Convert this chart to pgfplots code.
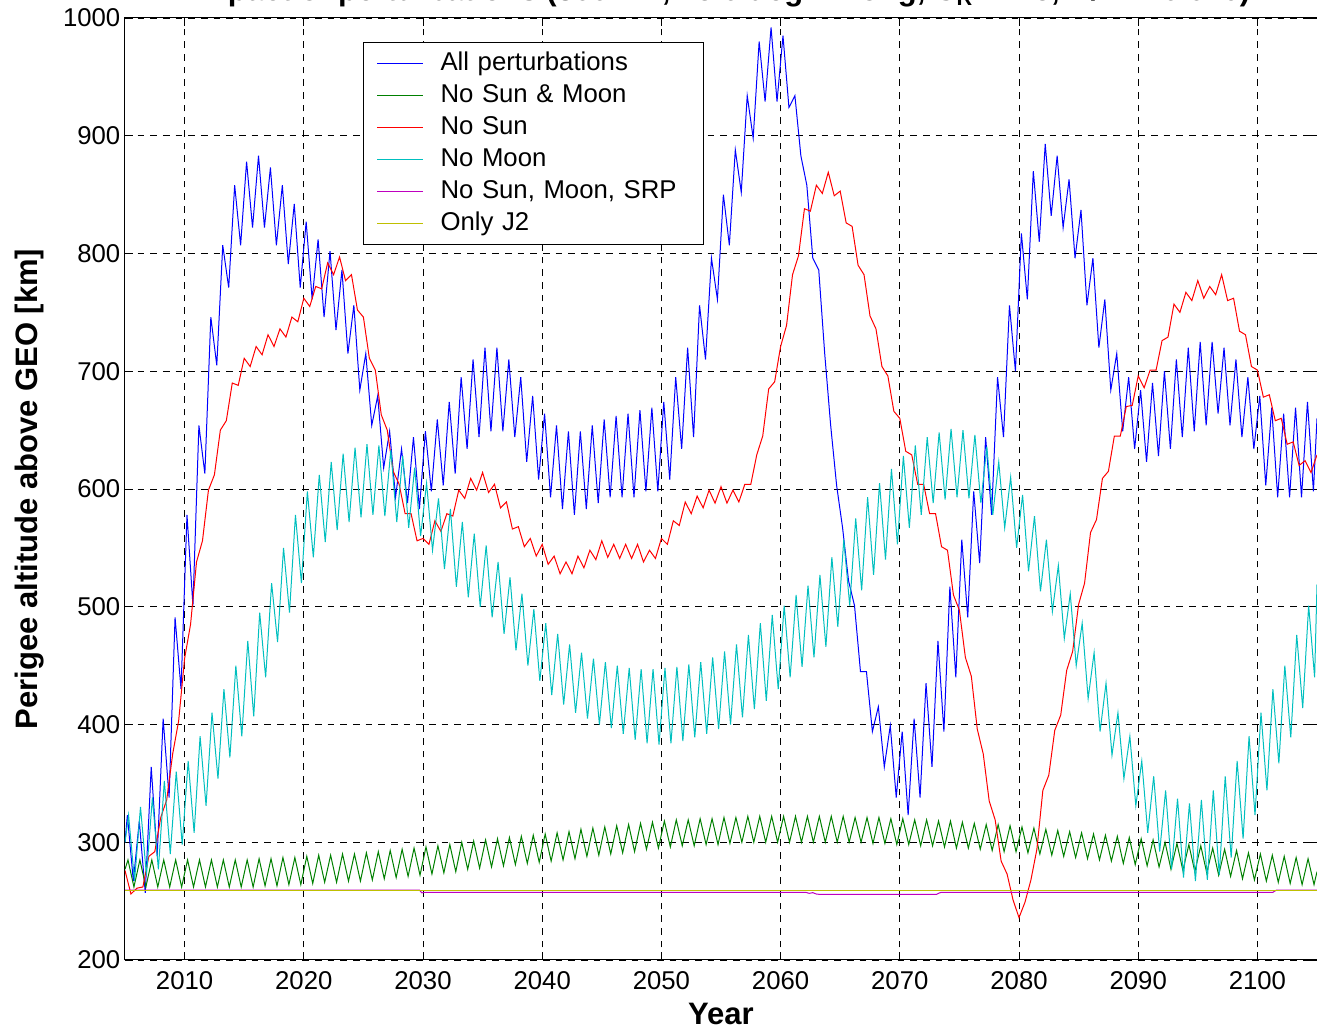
\documentclass[border=0pt]{standalone}
\usepackage{fontspec}
\setmainfont{Liberation Sans}
\usepackage{pgfplots}
\pgfplotsset{compat=1.18}
\definecolor{mblue}{rgb}{0,0,1}
\definecolor{mgreen}{rgb}{0,0.5,0}
\definecolor{mred}{rgb}{1,0,0}
\definecolor{mcyan}{rgb}{0,0.75,0.75}
\definecolor{mmag}{rgb}{0.75,0,0.75}
\definecolor{myel}{rgb}{0.75,0.75,0}
\begin{document}
\begin{tikzpicture}
\begin{axis}[
  name=ax,
  scale only axis,
  width=894pt, height=706.5pt,
  xmin=2005, xmax=2105, ymin=200, ymax=1000,
  xtick={2010,2020,...,2100},
  ytick={200,300,...,1000},
  /pgf/number format/1000 sep={},
  /pgf/number format/assume math mode=true,
  ticklabel style={font=\fontsize{19.3}{23}\selectfont},
  xticklabel style={yshift=-5pt},
  tick align=inside,
  major tick length=6pt,
  tick style={black, line width=0.6pt},
  axis line style={black, line width=0.75pt},
  grid=major,
  major grid style={black, line width=0.6pt, dash pattern=on 5pt off 4.5pt},
  xlabel={Year},
  ylabel={Perigee altitude above GEO [km]},
  label style={font=\bfseries\fontsize{23.25}{28}\selectfont},
  xlabel style={at={(axis description cs:0.5,-0.0685)}, anchor=base},
  ylabel style={at={(axis description cs:-0.0738,0.5)}, anchor=base},
  legend cell align=left,
  legend style={at={(0.1997,0.9745)}, anchor=north west, draw=black, line width=0.75pt,
    inner xsep=9.75pt, inner ysep=3.75pt, row sep=0pt,
    font=\fontsize{19.3}{23}\selectfont,
    nodes={inner xsep=0pt, inner ysep=2.65pt, text height=14.5pt, text depth=4.2pt, text width=187.5pt, align=left, anchor=west},
    /tikz/every odd column/.append style={column sep=12.75pt}},
  legend image code/.code={\draw[#1] (0pt,0pt) -- (34.5pt,0pt);},
  every axis plot/.append style={line width=0.75pt, mark=none},
]
% All perturbations
\addplot[draw=mblue, forget plot] coordinates {
(2005.0,300)
(2005.2,323)(2005.7,267)(2006.2,318)(2006.7,257)(2007.2,364)(2007.7,288)(2008.2,405)(2008.7,338)
(2009.2,491)(2009.7,430)(2010.2,578)(2010.7,501)(2011.2,654)(2011.7,613)(2012.2,746)(2012.7,705)
(2013.2,807)(2013.7,771)(2014.2,858)(2014.7,807)(2015.2,878)(2015.7,822)(2016.2,883)(2016.7,822)
(2017.2,873)(2017.7,807)(2018.2,858)(2018.7,791)(2019.2,842)(2019.7,771)(2020.2,827)(2020.7,761)
(2021.2,812)(2021.7,746)(2022.2,802)(2022.7,735)(2023.2,786)(2023.7,715)(2024.2,756)(2024.7,684)
(2025.2,715)(2025.7,654)(2026.2,679)(2026.7,618)(2027.2,649)(2027.7,593)(2028.2,634)(2028.7,588)
(2029.2,644)(2029.7,583)(2030.2,649)(2030.7,598)(2031.2,659)(2031.7,603)(2032.2,674)(2032.7,613)
(2033.2,695)(2033.7,634)(2034.2,710)(2034.7,644)(2035.2,720)(2035.7,649)(2036.2,720)(2036.7,649)
(2037.2,710)(2037.7,644)(2038.2,695)(2038.7,623)(2039.2,679)(2039.7,608)(2040.2,664)(2040.7,593)
(2041.2,654)(2041.7,583)(2042.2,649)(2042.7,578)(2043.2,649)(2043.7,583)(2044.2,654)(2044.7,588)
(2045.2,659)(2045.7,593)(2046.2,662)(2046.7,593)(2047.2,664)(2047.7,593)(2048.2,667)(2048.7,598)
(2049.2,669)(2049.7,598)(2050.2,674)(2050.7,608)(2051.2,695)(2051.7,634)(2052.2,720)(2052.7,644)
(2053.2,756)(2053.7,710)(2054.2,796)(2054.7,761)(2055.2,850)(2055.7,807)(2056.2,888)(2056.7,852)
(2057.2,934)(2057.7,898)(2058.2,980)(2058.7,929)(2059.2,992)(2059.7,929)(2060.2,985)(2060.7,924)
(2061.2,934)(2061.7,883)(2062.2,858)(2062.7,796)(2063.2,786)(2063.7,715)(2064.2,654)(2064.7,603)
(2065.2,567)(2065.7,522)(2066.2,501)(2066.7,445)(2067.2,445)(2067.7,394)(2068.2,415)(2068.7,364)
(2069.2,399)(2069.7,338)(2070.2,394)(2070.7,323)(2071.2,405)(2071.7,338)(2072.2,435)(2072.7,364)
(2073.2,471)(2073.7,394)(2074.2,517)(2074.7,440)(2075.2,557)(2075.7,491)(2076.2,598)(2076.7,537)
(2077.2,644)(2077.7,578)(2078.2,695)(2078.7,644)(2079.2,756)(2079.7,700)(2080.2,817)(2080.7,761)
(2081.2,870)(2081.7,810)(2082.2,893)(2082.7,832)(2083.2,883)(2083.7,822)(2084.2,863)(2084.7,796)
(2085.2,837)(2085.7,756)(2086.2,796)(2086.7,720)(2087.2,761)(2087.7,684)(2088.2,715)(2088.7,649)
(2089.2,695)(2089.7,634)(2090.2,684)(2090.7,623)(2091.2,690)(2091.7,628)(2092.2,700)(2092.7,634)
(2093.2,710)(2093.7,644)(2094.2,720)(2094.7,649)(2095.2,725)(2095.7,654)(2096.2,725)(2096.7,664)
(2097.2,720)(2097.7,654)(2098.2,710)(2098.7,644)(2099.2,695)(2099.7,634)(2100.2,679)(2100.7,603)
(2101.2,669)(2101.7,593)(2102.2,664)(2102.7,593)(2103.2,669)(2103.7,593)(2104.2,674)(2104.7,598)
(2105.0,660)
};
% No Sun & Moon
\addplot[draw=mgreen, forget plot] coordinates {
(2005.0,277)
(2005.25,285)(2005.75,262)(2006.25,285)(2006.75,262)(2007.25,285)(2007.75,262)(2008.25,285)(2008.75,262)
(2009.25,285)(2009.75,262)(2010.25,285)(2010.75,262)(2011.25,285)(2011.75,262)(2012.25,285)(2012.75,262)
(2013.25,285)(2013.75,262)(2014.25,285)(2014.75,262)(2015.25,285)(2015.75,262)(2016.25,286)(2016.75,263)
(2017.25,286)(2017.75,263)(2018.25,287)(2018.75,264)(2019.25,287)(2019.75,264)(2020.25,288)(2020.75,265)
(2021.25,289)(2021.75,266)(2022.25,289)(2022.75,266)(2023.25,290)(2023.75,267)(2024.25,290)(2024.75,267)
(2025.25,291)(2025.75,268)(2026.25,292)(2026.75,269)(2027.25,293)(2027.75,270)(2028.25,294)(2028.75,271)
(2029.25,295)(2029.75,272)(2030.25,296)(2030.75,273)(2031.25,297)(2031.75,274)(2032.25,298)(2032.75,275)
(2033.25,300)(2033.75,277)(2034.25,301)(2034.75,278)(2035.25,302)(2035.75,279)(2036.25,303)(2036.75,280)
(2037.25,304)(2037.75,281)(2038.25,305)(2038.75,282)(2039.25,306)(2039.75,283)(2040.25,307)(2040.75,284)
(2041.25,308)(2041.75,285)(2042.25,309)(2042.75,286)(2043.25,311)(2043.75,288)(2044.25,312)(2044.75,289)
(2045.25,313)(2045.75,290)(2046.25,314)(2046.75,291)(2047.25,315)(2047.75,292)(2048.25,316)(2048.75,294)
(2049.25,317)(2049.75,295)(2050.25,318)(2050.75,296)(2051.25,319)(2051.75,297)(2052.25,319)(2052.75,297)
(2053.25,320)(2053.75,298)(2054.25,320)(2054.75,298)(2055.25,321)(2055.75,299)(2056.25,321)(2056.75,300)
(2057.25,322)(2057.75,300)(2058.25,322)(2058.75,300)(2059.25,322)(2059.75,300)(2060.25,322)(2060.75,300)
(2061.25,322)(2061.75,300)(2062.25,322)(2062.75,300)(2063.25,322)(2063.75,300)(2064.25,322)(2064.75,300)
(2065.25,322)(2065.75,300)(2066.25,321)(2066.75,300)(2067.25,321)(2067.75,299)(2068.25,321)(2068.75,299)
(2069.25,320)(2069.75,298)(2070.25,320)(2070.75,298)(2071.25,319)(2071.75,297)(2072.25,319)(2072.75,297)
(2073.25,318)(2073.75,296)(2074.25,318)(2074.75,295)(2075.25,317)(2075.75,295)(2076.25,316)(2076.75,294)
(2077.25,315)(2077.75,293)(2078.25,315)(2078.75,292)(2079.25,314)(2079.75,292)(2080.25,313)(2080.75,291)
(2081.25,312)(2081.75,290)(2082.25,311)(2082.75,289)(2083.25,310)(2083.75,288)(2084.25,309)(2084.75,287)
(2085.25,308)(2085.75,286)(2086.25,307)(2086.75,285)(2087.25,306)(2087.75,284)(2088.25,305)(2088.75,282)
(2089.25,304)(2089.75,281)(2090.25,303)(2090.75,280)(2091.25,302)(2091.75,279)(2092.25,300)(2092.75,277)
(2093.25,299)(2093.75,276)(2094.25,298)(2094.75,275)(2095.25,297)(2095.75,274)(2096.25,295)(2096.75,272)
(2097.25,294)(2097.75,271)(2098.25,293)(2098.75,269)(2099.25,291)(2099.75,268)(2100.25,290)(2100.75,267)
(2101.25,289)(2101.75,266)(2102.25,288)(2102.75,265)(2103.25,287)(2103.75,264)(2104.25,286)(2104.75,264)
(2105.0,275)
};
% No Sun
\addplot[draw=mred, forget plot] coordinates {
(2005.0,276)(2005.5,256)(2006.0,261)(2006.5,262)(2007.0,288)(2007.5,292)(2008.0,321)(2008.5,336)
(2009.0,375)(2009.5,403)(2010.0,456)(2010.5,485)(2011.0,538)(2011.5,556)(2012.0,599)(2012.5,612)
(2013.0,650)(2013.5,658)(2014.0,690)(2014.5,688)(2015.0,711)(2015.5,704)(2016.0,721)(2016.5,714)
(2017.0,731)(2017.5,721)(2018.0,736)(2018.5,729)(2019.0,746)(2019.5,742)(2020.0,762)(2020.5,755)
(2021.0,772)(2021.5,770)(2022.0,792)(2022.5,782)(2023.0,797)(2023.5,777)(2024.0,782)(2024.5,752)
(2025.0,746)(2025.5,711)(2026.0,701)(2026.5,663)(2027.0,650)(2027.5,615)(2028.0,604)(2028.5,579)
(2029.0,579)(2029.5,556)(2030.0,558)(2030.5,553)(2031.0,573)(2031.5,564)(2032.0,579)(2032.5,577)
(2033.0,599)(2033.5,592)(2034.0,609)(2034.5,599)(2035.0,614)(2035.5,597)(2036.0,604)(2036.5,584)
(2037.0,589)(2037.5,566)(2038.0,568)(2038.5,551)(2039.0,558)(2039.5,543)(2040.0,553)(2040.5,536)
(2041.0,543)(2041.5,528)(2042.0,538)(2042.5,528)(2043.0,543)(2043.5,533)(2044.0,548)(2044.5,540)
(2045.0,556)(2045.5,542)(2046.0,553)(2046.5,541)(2047.0,553)(2047.5,541)(2048.0,553)(2048.5,538)
(2049.0,548)(2049.5,541)(2050.0,558)(2050.5,553)(2051.0,573)(2051.5,569)(2052.0,589)(2052.5,579)
(2053.0,594)(2053.5,584)(2054.0,599)(2054.5,588)(2055.0,602)(2055.5,588)(2056.0,599)(2056.5,589)
(2057.0,604)(2057.5,604)(2058.0,629)(2058.5,645)(2059.0,685)(2059.5,691)(2060.0,721)(2060.5,739)
(2061.0,782)(2061.5,798)(2062.0,838)(2062.5,836)(2063.0,858)(2063.5,851)(2064.0,869)(2064.5,849)
(2065.0,853)(2065.5,826)(2066.0,823)(2066.5,790)(2067.0,782)(2067.5,747)(2068.0,736)(2068.5,704)
(2069.0,696)(2069.5,666)(2070.0,660)(2070.5,632)(2071.0,629)(2071.5,604)(2072.0,604)(2072.5,579)
(2073.0,579)(2073.5,551)(2074.0,548)(2074.5,510)(2075.0,497)(2075.5,457)(2076.0,441)(2076.5,396)
(2077.0,375)(2077.5,335)(2078.0,319)(2078.5,284)(2079.0,273)(2079.5,251)(2080.0,236)(2080.5,249)
(2081.0,268)(2081.5,294)(2082.0,344)(2082.5,357)(2083.0,395)(2083.5,408)(2084.0,446)(2084.5,462)
(2085.0,502)(2085.5,520)(2086.0,563)(2086.5,574)(2087.0,609)(2087.5,615)(2088.0,645)(2088.5,645)
(2089.0,670)(2089.5,671)(2090.0,696)(2090.5,686)(2091.0,701)(2091.5,701)(2092.0,726)(2092.5,729)
(2093.0,757)(2093.5,750)(2094.0,767)(2094.5,760)(2095.0,777)(2095.5,762)(2096.0,772)(2096.5,765)
(2097.0,782)(2097.5,760)(2098.0,762)(2098.5,734)(2099.0,731)(2099.5,704)(2100.0,701)(2100.5,678)
(2101.0,680)(2101.5,658)(2102.0,660)(2102.5,638)(2103.0,640)(2103.5,620)(2104.0,624)(2104.5,614)
(2105.0,629)
};
% No Moon
\addplot[draw=mcyan, forget plot] coordinates {
(2005.0,300)
(2005.3,323)(2005.8,267)(2006.3,330)(2006.8,272)(2007.3,338)(2007.8,277)(2008.3,352)(2008.8,290)
(2009.3,360)(2009.8,298)(2010.3,369)(2010.8,308)(2011.3,390)(2011.8,331)(2012.3,410)(2012.8,354)
(2013.3,430)(2013.8,372)(2014.3,450)(2014.8,390)(2015.3,471)(2015.8,407)(2016.3,495)(2016.8,440)
(2017.3,520)(2017.8,470)(2018.3,550)(2018.8,495)(2019.3,578)(2019.8,520)(2020.3,598)(2020.8,542)
(2021.3,612)(2021.8,555)(2022.3,623)(2022.8,565)(2023.3,630)(2023.8,572)(2024.3,635)(2024.8,576)
(2025.3,638)(2025.8,578)(2026.3,637)(2026.8,577)(2027.3,633)(2027.8,572)(2028.3,628)(2028.8,567)
(2029.3,618)(2029.8,560)(2030.3,605)(2030.8,548)(2031.3,592)(2031.8,532)(2032.3,583)(2032.8,517)
(2033.3,572)(2033.8,508)(2034.3,562)(2034.8,500)(2035.3,552)(2035.8,491)(2036.3,538)(2036.8,477)
(2037.3,525)(2037.8,463)(2038.3,511)(2038.8,450)(2039.3,498)(2039.8,437)(2040.3,486)(2040.8,425)
(2041.3,477)(2041.8,417)(2042.3,468)(2042.8,410)(2043.3,461)(2043.8,405)(2044.3,456)(2044.8,400)
(2045.3,453)(2045.8,397)(2046.3,450)(2046.8,392)(2047.3,448)(2047.8,387)(2048.3,447)(2048.8,384)
(2049.3,447)(2049.8,383)(2050.3,448)(2050.8,384)(2051.3,449)(2051.8,386)(2052.3,451)(2052.8,389)
(2053.3,453)(2053.8,392)(2054.3,457)(2054.8,396)(2055.3,462)(2055.8,400)(2056.3,468)(2056.8,406)
(2057.3,476)(2057.8,413)(2058.3,486)(2058.8,420)(2059.3,493)(2059.8,430)(2060.3,501)(2060.8,440)
(2061.3,510)(2061.8,449)(2062.3,518)(2062.8,457)(2063.3,527)(2063.8,466)(2064.3,542)(2064.8,483)
(2065.3,557)(2065.8,501)(2066.3,575)(2066.8,514)(2067.3,593)(2067.8,527)(2068.3,605)(2068.8,540)
(2069.3,617)(2069.8,553)(2070.3,628)(2070.8,567)(2071.3,637)(2071.8,578)(2072.3,644)(2072.8,588)
(2073.3,648)(2073.8,591)(2074.3,651)(2074.8,593)(2075.3,650)(2075.8,592)(2076.3,646)(2076.8,588)
(2077.3,636)(2077.8,578)(2078.3,623)(2078.8,567)(2079.3,610)(2079.8,550)(2080.3,595)(2080.8,530)
(2081.3,577)(2081.8,513)(2082.3,557)(2082.8,496)(2083.3,535)(2083.8,473)(2084.3,511)(2084.8,450)
(2085.3,486)(2085.8,422)(2086.3,461)(2086.8,394)(2087.3,435)(2087.8,374)(2088.3,410)(2088.8,354)
(2089.3,390)(2089.8,331)(2090.3,369)(2090.8,308)(2091.3,356)(2091.8,292)(2092.3,344)(2092.8,277)
(2093.3,337)(2093.8,270)(2094.3,333)(2094.8,267)(2095.3,336)(2095.8,268)(2096.3,344)(2096.8,272)
(2097.3,356)(2097.8,287)(2098.3,369)(2098.8,303)(2099.3,390)(2099.8,323)(2100.3,410)(2100.8,344)
(2101.3,430)(2101.8,367)(2102.3,450)(2102.8,389)(2103.3,476)(2103.8,414)(2104.3,501)(2104.8,440)
(2105.0,519)
};
% No Sun, Moon, SRP
\addplot[draw=mmag, forget plot] coordinates {
(2005,259.4)(2029.7,259.4)(2029.9,257.0)(2030.1,257.5)(2062.1,257.5)(2062.4,256.6)(2062.7,257.2)(2063.0,256.0)(2063.2,255.8)
(2073.1,255.8)(2073.3,256.9)(2073.5,257.5)(2101.3,257.5)(2101.6,259.4)(2105,259.4)
};
% Only J2
\addplot[draw=myel, forget plot] coordinates {
(2005,259.4)(2105,259.4)
};
\addlegendimage{draw=mblue, line width=0.75pt}
\addlegendentry{All perturbations}
\addlegendimage{draw=mgreen, line width=0.75pt}
\addlegendentry{No Sun \& Moon}
\addlegendimage{draw=mred, line width=0.75pt}
\addlegendentry{No Sun}
\addlegendimage{draw=mcyan, line width=0.75pt}
\addlegendentry{No Moon}
\addlegendimage{draw=mmag, line width=0.75pt}
\addlegendentry{No Sun, Moon, SRP}
\addlegendimage{draw=myel, line width=0.75pt}
\addlegendentry{Only J2}
\end{axis}
\node[font=\bfseries\fontsize{23.25}{28}\selectfont, anchor=base] at ([yshift=12.75pt]ax.north)
  {Impact of perturbations (300 km, 75.0 deg E Long, C\textsubscript{R} = 1.5, A/m = 0.020)};
\pgfresetboundingbox
\path[use as bounding box] ([xshift=-93.75pt,yshift=-51.75pt]ax.south west) rectangle ([yshift=13.5pt]ax.north east);
\end{tikzpicture}
\end{document}
